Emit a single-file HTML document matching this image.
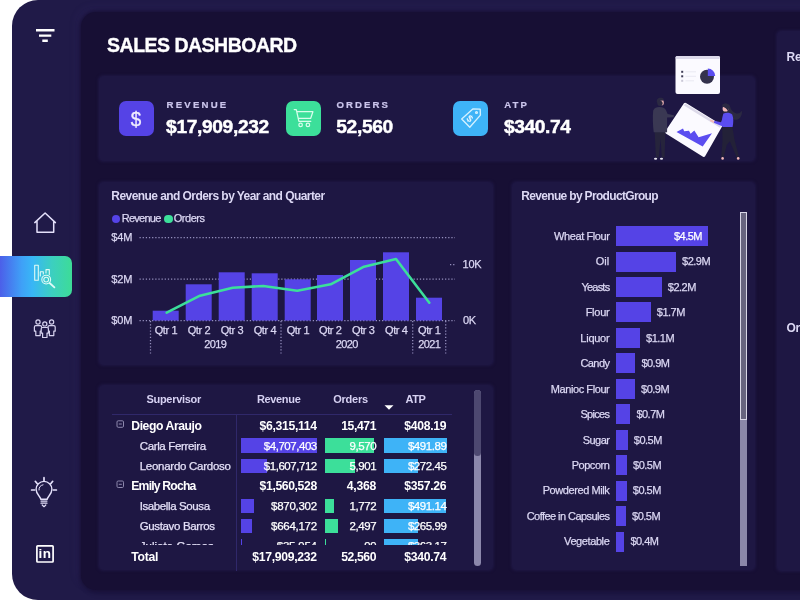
<!DOCTYPE html>
<html lang="en"><head><meta charset="utf-8"><title>Sales Dashboard</title>
<style>
html,body{margin:0;padding:0}
body{width:800px;height:600px;overflow:hidden;position:relative;background:#fff;font-family:"Liberation Sans",sans-serif;}
.t{position:absolute;white-space:nowrap;}
.r{position:absolute;}
svg{position:absolute;overflow:visible}
#side{position:absolute;left:12px;top:0;width:800px;height:600px;background:#201a48;border-radius:26px 0 0 26px;}
#main{position:absolute;left:81px;top:12px;width:740px;height:577.500px;background:#170f34;border-radius:15px 0 0 15px;box-shadow:0 0 4px 1px #170f34,-4px -4px 9px rgba(75,65,140,.13),3px 3px 6px rgba(10,6,34,.18);}
.card{position:absolute;background:#1e1743;border-radius:5px;box-shadow:0 0 2.5px 0.5px #1e1743;}
</style></head><body>
<div id="side"></div>
<div id="main"></div>

<div class="r" style="left:0;top:256px;width:72px;height:40.5px;border-radius:0 7px 7px 0;background:linear-gradient(90deg,#4c5fe9 0%,#3fa0f7 30%,#38b6f6 45%,#3ccfc0 72%,#3ddc97 100%);"></div>
<svg width="800" height="600" viewBox="0 0 800 600" style="left:0;top:0" fill="none" stroke="#e4e0fa" stroke-width="1.5" stroke-linecap="round" stroke-linejoin="round">
<g stroke="#fff" stroke-width="2.4" stroke-linecap="butt"><path d="M36 30.3H54.5M39 35.6H51.3M42.3 40.8H47.8"/></g>
<path d="M34.8 222.6L45.1 213L55.4 222.6M37 221V232.3H53.7V221"/>
<g stroke="#dffaf6" stroke-width="1.1"><rect x="34.7" y="265.3" width="3.6" height="15"/><path d="M40.3 276V271.8H43.3V274"/><path d="M46 273V269.6H49.3V274.5"/><circle cx="46.2" cy="279.6" r="4.4"/><circle cx="46.2" cy="279.6" r="2.4"/><path d="M49.6 283L54.4 287.4" stroke-width="1.8"/></g>
<g stroke-width="1.2" stroke="#d6d2ee">
<circle cx="38" cy="322" r="2.1"/><path d="M35.8 325.6h4.4a1.4 1.4 0 0 1 1.4 1.4v4.2h-1.4v4.4h-4.4v-4.4h-1.4v-4.2a1.4 1.4 0 0 1 1.4-1.4z"/>
<circle cx="51.6" cy="322" r="2.1"/><path d="M49.4 325.6h4.4a1.4 1.4 0 0 1 1.4 1.4v4.2h-1.4v4.4h-4.4v-4.4h-1.4v-4.2a1.4 1.4 0 0 1 1.4-1.4z"/>
<circle cx="44.8" cy="323.9" r="2.1"/><path fill="#201a48" d="M42.6 327.5h4.4a1.4 1.4 0 0 1 1.4 1.4v4.2h-1.4v4.4h-4.4v-4.4h-1.4v-4.2a1.4 1.4 0 0 1 1.4-1.4z"/>
</g>
<g stroke-width="1.4"><path d="M40.7 499.2c0-2.6-4.6-4.6-4.6-9.9a7.9 7.9 0 0 1 15.8 0c0 5.3-4.6 7.3-4.6 9.9z"/><path d="M41 501.100h6M41 503.200h6M42.200 505L44 506.700L45.800 505" stroke-width="1.2"/><path d="M39 490a5 5 0 0 1 4-5.200" stroke-width="1"/>
<path d="M44 477.700V480.400M35.300 481.300L37.300 483.800M52.700 481.300L50.700 483.800M31.600 490H34.600M53.400 490H56.400" stroke-width="1.7"/></g>
<rect x="36.900" y="545.800" width="16.200" height="16.200" rx="0.800" stroke="#fff" stroke-width="1.700"/>
</svg>
<div class="t" style="left:34.9px;width:20px;text-align:center;top:544.1px;height:19px;line-height:19px;font-size:13.5px;color:#fff;font-weight:700;letter-spacing:0.3px;">in</div>
<div class="t" style="left:107.1px;top:32.0px;height:27px;line-height:27px;font-size:19.5px;color:#fff;font-weight:700;letter-spacing:-0.51px;-webkit-text-stroke:.35px #fff;">SALES DASHBOARD</div>
<div class="card" style="left:99px;top:76px;width:656px;height:85px;"></div>
<div class="r" style="left:119.0px;top:100.6px;width:35.2px;height:35.2px;background:#5543e6;border-radius:7px;"></div>
<div class="t" style="left:166.5px;top:97.8px;height:13px;line-height:13px;font-size:9.6px;color:#cbc5ec;font-weight:700;letter-spacing:2.23px;-webkit-text-stroke:.2px #cbc5ec;">REVENUE</div>
<div class="t" style="left:166.1px;top:113.0px;height:27px;line-height:27px;font-size:19.2px;color:#fff;font-weight:700;letter-spacing:-0.36px;-webkit-text-stroke:.45px #fff;">$17,909,232</div>
<div class="r" style="left:286.0px;top:100.6px;width:35.2px;height:35.2px;background:#3cdf9a;border-radius:7px;"></div>
<div class="t" style="left:336.6px;top:97.8px;height:13px;line-height:13px;font-size:9.6px;color:#cbc5ec;font-weight:700;letter-spacing:2.05px;-webkit-text-stroke:.2px #cbc5ec;">ORDERS</div>
<div class="t" style="left:336.2px;top:113.0px;height:27px;line-height:27px;font-size:19.2px;color:#fff;font-weight:700;letter-spacing:-0.32px;-webkit-text-stroke:.45px #fff;">52,560</div>
<div class="r" style="left:453.0px;top:100.6px;width:35.2px;height:35.2px;background:#3eb3f7;border-radius:7px;"></div>
<div class="t" style="left:504.3px;top:97.8px;height:13px;line-height:13px;font-size:9.6px;color:#cbc5ec;font-weight:700;letter-spacing:2.1px;-webkit-text-stroke:.2px #cbc5ec;">ATP</div>
<div class="t" style="left:503.9px;top:113.0px;height:27px;line-height:27px;font-size:19.2px;color:#fff;font-weight:700;letter-spacing:-0.4px;-webkit-text-stroke:.45px #fff;">$340.74</div>
<div class="t" style="left:126.1px;width:20px;text-align:center;top:103.8px;height:29px;line-height:29px;font-size:20.5px;color:#f1eeff;font-weight:400;transform:scaleX(.92);-webkit-text-stroke:.3px #f1eeff;">$</div>
<svg width="800" height="600" viewBox="0 0 800 600" style="left:0;top:0" fill="none" stroke="#d8fdec" stroke-width="1.25" stroke-linecap="round" stroke-linejoin="round">
<path d="M294.200 109.600h2.100l2.600 11.700h11.900M297.300 111.700h15.600l-2.200 6.600h-11.700"/><circle cx="300.600" cy="124.900" r="1.750"/><circle cx="307.900" cy="124.900" r="1.750"/>
<g stroke="#d4f1ff" stroke-width="1.350"><path d="M472.800 108.900L480.200 109.200L480.400 115.100L469.800 127.300L461.700 119Z"/><circle cx="476.500" cy="112.500" r="0.900"/></g>
</svg>
<div class="t" style="left:465.4px;width:10px;text-align:center;top:111.7px;height:13px;line-height:13px;font-size:9.5px;color:#e8f6ff;font-weight:700;transform:rotate(38deg);">$</div>
<svg width="800" height="600" viewBox="0 0 800 600" style="left:0;top:0">
<rect x="675.500" y="56" width="44.500" height="38" rx="2" fill="#fbfaff"/>
<rect x="675.500" y="56" width="44.500" height="3" rx="1.500" fill="#dcd9ea"/>
<circle cx="707" cy="76.800" r="7" fill="#34324c"/>
<path d="M707.800 76V68.600A7.400 7.400 0 0 1 715.200 76Z" fill="#5b4df0"/>
<g fill="#3f3d56"><rect x="681.200" y="70.800" width="2" height="2"/><rect x="681.200" y="75.300" width="2" height="2"/></g><rect x="681.200" y="79.800" width="2" height="2" fill="#c9c7d6"/>
<g stroke="#deddea" stroke-width="0.600"><path d="M685.500 71.800H696M685.500 76.300H696M685.500 80.800H694"/></g>
<!-- tilted card -->
<path d="M685.200 104.200L720.600 126L703.800 155.400L666.600 132.200Z" fill="#fbfaff" stroke="#fbfaff" stroke-width="3" stroke-linejoin="round"/>
<path d="M685.200 103.400L721.200 125.600L720 127.800L684 105.600Z" fill="#dcd9e9"/>
<path d="M676.500 132L683 128.600L684.200 131.200L689 130.800L690.600 133.800L694.300 130.400L698.600 137.200L712 133.300L702.700 146.600Z" fill="#5b4df0"/>
<!-- man -->
<path d="M654.600 131h10.800l-0.800 26.500h-2.800l-1.200-19l-1.800 19h-2.900z" fill="#26243c"/>
<path d="M653.200 110.500c1.200-2.600 3.400-3.300 6.200-3.400c3 0 5.600 0.900 6.600 3.200l1.600 3.700l6.400 1.300l-0.300 1.900l-6.600 0.300v14.800h-13.400c-0.800-7-1.200-15-0.500-21.800z" fill="#3a3853"/>
<path d="M657 102.500c-1-3 1.500-5.200 4.300-4.700c1.800 0.200 2.700 1.200 2.300 2.500l-3 0.600l-0.600 3.800z" fill="#2b2942"/>
<path d="M660.400 100.700l3-0.300c0.600 1.500 0.500 3.400-0.200 4.600c-1.200 0.800-2.600 0.200-3.200-1z" fill="#f0b5b5"/>
<circle cx="660" cy="103.300" r="2.600" fill="#2b2942"/>
<ellipse cx="655.600" cy="158.700" rx="1.600" ry="1" fill="#e6e4f0"/><ellipse cx="661.500" cy="158.700" rx="1.600" ry="1" fill="#e6e4f0"/>
<!-- woman -->
<path d="M722.600 104.600c2.600-2.200 6.800-0.800 7.600 2.300c0.800 3 3 5.500 6.300 6.500c2.600 0.600 3.800-1 5.600-2.700c0 4.200-1.400 7.800-4.600 8.800c-4.200 1.200-7.200-2.300-8.800-5.300l-5.600-1.600z" fill="#2b2942"/>
<path d="M722.600 126.400h9.600c1.400 6 1.600 11 3 16l3.900 14.600l-2.400 0.700l-6.800-16.500l-3.200 3.800l-3 12.500l-2.500-0.400l1.200-14.600c0.300-5.700-0.500-10.600 0.200-16.100z" fill="#232138"/>
<circle cx="725.500" cy="108.700" r="2.900" fill="#f3b8b8"/>
<path d="M722.600 104.600c2.600-1.900 6-1 7.200 1.600l-2 4.800c-0.800-2-2.800-3.800-5.800-4.400z" fill="#2b2942"/>
<path d="M723.400 113.600c2.600-1.400 6.800-1.200 8.800 0.800c1.600 4 1.200 8.600 0.400 12.600h-10.200c-0.300-4.600-0.700-9.400 1-13.400z" fill="#5b4df0"/>
<path d="M723.400 116l-2.400 6.300l-6.800-1.500l-0.500 2l9.300 3.600l3.600-8.600z" fill="#5b4df0"/>
<path d="M714.400 120.900l-3.700-1.300l-0.900 1.500l4 1.800z" fill="#f3b8b8"/>
<ellipse cx="722.600" cy="158.400" rx="1.300" ry="1.300" fill="#f3b8b8"/><ellipse cx="738.200" cy="158.400" rx="1.300" ry="1.300" fill="#f3b8b8"/>
</svg>
<div class="card" style="left:99px;top:182.200px;width:394px;height:182.500px;"></div>
<div class="t" style="left:111.3px;top:187.5px;height:17px;line-height:17px;font-size:12px;color:#dcd8f4;font-weight:700;letter-spacing:-0.56px;">Revenue and Orders by Year and Quarter</div>
<div class="r" style="left:112.0px;top:214.5px;width:8.4px;height:8.4px;background:#5543e6;border-radius:50%;"></div>
<div class="t" style="left:121.8px;top:211.1px;height:15px;line-height:15px;font-size:11px;color:#dcd8f4;font-weight:400;letter-spacing:-0.76px;-webkit-text-stroke:.25px #dcd8f4;">Revenue</div>
<div class="r" style="left:164.3px;top:214.5px;width:8.4px;height:8.4px;background:#3cdf9a;border-radius:50%;"></div>
<div class="t" style="left:173.8px;top:211.1px;height:15px;line-height:15px;font-size:11px;color:#dcd8f4;font-weight:400;letter-spacing:-0.49px;-webkit-text-stroke:.25px #dcd8f4;">Orders</div>
<div class="t" style="left:111.3px;top:230.1px;height:15px;line-height:15px;font-size:11px;color:#dcd8f4;font-weight:400;letter-spacing:-0.13px;-webkit-text-stroke:.25px #dcd8f4;">$4M</div>
<div class="t" style="left:111.3px;top:271.5px;height:15px;line-height:15px;font-size:11px;color:#dcd8f4;font-weight:400;letter-spacing:-0.13px;-webkit-text-stroke:.25px #dcd8f4;">$2M</div>
<div class="t" style="left:111.3px;top:312.8px;height:15px;line-height:15px;font-size:11px;color:#dcd8f4;font-weight:400;letter-spacing:-0.13px;-webkit-text-stroke:.25px #dcd8f4;">$0M</div>
<div class="t" style="left:462.6px;top:257.0px;height:15px;line-height:15px;font-size:11px;color:#dcd8f4;font-weight:400;letter-spacing:-0.29px;-webkit-text-stroke:.25px #dcd8f4;">10K</div>
<div class="t" style="left:463.0px;top:312.8px;height:15px;line-height:15px;font-size:11px;color:#dcd8f4;font-weight:400;letter-spacing:-0.43px;-webkit-text-stroke:.25px #dcd8f4;">0K</div>
<svg width="800" height="600" viewBox="0 0 800 600" style="left:0;top:0" fill="none"><g stroke="#9590be" stroke-width="1.25" stroke-dasharray="1.25 1.9"><path d="M139.500 237.5H455"/><path d="M139.500 279H455"/><path d="M139.500 320.5H455"/><path d="M450 264.500H456"/><path d="M150.5 321V353.500"/><path d="M281 321V353.500"/><path d="M412.7 321V353.500"/><path d="M445.7 321V353.500"/></g><rect x="152.7" y="310.7" width="26" height="9.8" fill="#5543e6"/><rect x="185.7" y="284.3" width="26" height="36.2" fill="#5543e6"/><rect x="218.7" y="272.3" width="26" height="48.2" fill="#5543e6"/><rect x="251.7" y="273.3" width="26" height="47.2" fill="#5543e6"/><rect x="284.7" y="279.3" width="26" height="41.2" fill="#5543e6"/><rect x="317" y="275" width="26" height="45.5" fill="#5543e6"/><rect x="350" y="260" width="26" height="60.5" fill="#5543e6"/><rect x="383" y="252.3" width="26" height="68.2" fill="#5543e6"/><rect x="416" y="297.7" width="26" height="22.8" fill="#5543e6"/><polyline points="166.7,312.7 200,295.7 232.7,287.7 263.3,286 297.3,290.7 330.7,284.3 364,266.7 396,259 429.3,302.7" stroke="#3cdf9a" stroke-width="2.600" stroke-linejoin="round" stroke-linecap="round"/></svg>
<div class="t" style="left:146.0px;width:40px;text-align:center;top:322.8px;height:15px;line-height:15px;font-size:11px;color:#dcd8f4;font-weight:400;letter-spacing:-0.35px;-webkit-text-stroke:.25px #dcd8f4;">Qtr 1</div>
<div class="t" style="left:179.0px;width:40px;text-align:center;top:322.8px;height:15px;line-height:15px;font-size:11px;color:#dcd8f4;font-weight:400;letter-spacing:-0.35px;-webkit-text-stroke:.25px #dcd8f4;">Qtr 2</div>
<div class="t" style="left:212.0px;width:40px;text-align:center;top:322.8px;height:15px;line-height:15px;font-size:11px;color:#dcd8f4;font-weight:400;letter-spacing:-0.35px;-webkit-text-stroke:.25px #dcd8f4;">Qtr 3</div>
<div class="t" style="left:245.0px;width:40px;text-align:center;top:322.8px;height:15px;line-height:15px;font-size:11px;color:#dcd8f4;font-weight:400;letter-spacing:-0.35px;-webkit-text-stroke:.25px #dcd8f4;">Qtr 4</div>
<div class="t" style="left:278.0px;width:40px;text-align:center;top:322.8px;height:15px;line-height:15px;font-size:11px;color:#dcd8f4;font-weight:400;letter-spacing:-0.35px;-webkit-text-stroke:.25px #dcd8f4;">Qtr 1</div>
<div class="t" style="left:310.3px;width:40px;text-align:center;top:322.8px;height:15px;line-height:15px;font-size:11px;color:#dcd8f4;font-weight:400;letter-spacing:-0.35px;-webkit-text-stroke:.25px #dcd8f4;">Qtr 2</div>
<div class="t" style="left:343.3px;width:40px;text-align:center;top:322.8px;height:15px;line-height:15px;font-size:11px;color:#dcd8f4;font-weight:400;letter-spacing:-0.35px;-webkit-text-stroke:.25px #dcd8f4;">Qtr 3</div>
<div class="t" style="left:376.3px;width:40px;text-align:center;top:322.8px;height:15px;line-height:15px;font-size:11px;color:#dcd8f4;font-weight:400;letter-spacing:-0.35px;-webkit-text-stroke:.25px #dcd8f4;">Qtr 4</div>
<div class="t" style="left:409.3px;width:40px;text-align:center;top:322.8px;height:15px;line-height:15px;font-size:11px;color:#dcd8f4;font-weight:400;letter-spacing:-0.35px;-webkit-text-stroke:.25px #dcd8f4;">Qtr 1</div>
<div class="t" style="left:195.3px;width:40px;text-align:center;top:336.9px;height:15px;line-height:15px;font-size:11px;color:#dcd8f4;font-weight:400;letter-spacing:-0.62px;-webkit-text-stroke:.25px #dcd8f4;">2019</div>
<div class="t" style="left:326.7px;width:40px;text-align:center;top:336.9px;height:15px;line-height:15px;font-size:11px;color:#dcd8f4;font-weight:400;letter-spacing:-0.62px;-webkit-text-stroke:.25px #dcd8f4;">2020</div>
<div class="t" style="left:409.3px;width:40px;text-align:center;top:336.9px;height:15px;line-height:15px;font-size:11px;color:#dcd8f4;font-weight:400;letter-spacing:-0.62px;-webkit-text-stroke:.25px #dcd8f4;">2021</div>
<div class="card" style="left:99px;top:384.600px;width:393.500px;height:185.900px;"></div>
<div class="t" style="left:123.7px;width:100px;text-align:center;top:391.5px;height:15px;line-height:15px;font-size:11px;color:#d6d1f2;font-weight:700;letter-spacing:-0.3px;">Supervisor</div>
<div class="t" style="left:228.7px;width:100px;text-align:center;top:391.5px;height:15px;line-height:15px;font-size:11px;color:#d6d1f2;font-weight:700;letter-spacing:-0.34px;">Revenue</div>
<div class="t" style="left:300.5px;width:100px;text-align:center;top:391.5px;height:15px;line-height:15px;font-size:11px;color:#d6d1f2;font-weight:700;letter-spacing:-0.25px;">Orders</div>
<div class="t" style="left:365.5px;width:100px;text-align:center;top:391.5px;height:15px;line-height:15px;font-size:11px;color:#d6d1f2;font-weight:700;letter-spacing:-0.39px;">ATP</div>
<div class="r" style="left:112.0px;top:414.3px;width:340.0px;height:1.0px;background:#30286a;"></div>
<div class="r" style="left:235.8px;top:415.0px;width:1.0px;height:156.0px;background:#30286a;"></div>
<svg width="800" height="600" viewBox="0 0 800 600" style="left:0;top:0"><path d="M384.500 405.300h9l-4.500 4.500z" fill="#fff"/><g fill="none" stroke="#8d88ad" stroke-width="1"><rect x="117" y="420.800" width="6.500" height="6.500" rx="1.200"/><path d="M118.800 424h3"/><rect x="117" y="481" width="6.500" height="6.500" rx="1.200"/><path d="M118.800 484.300h3"/></g></svg>
<div class="r" style="left:98px;top:416px;width:372px;height:128.800px;overflow:hidden;"><div style="position:absolute;left:-98px;top:-416px;width:800px;height:600px;">
<div class="t" style="left:131.3px;top:418.1px;height:17px;line-height:17px;font-size:12.2px;color:#fff;font-weight:700;letter-spacing:-0.43px;">Diego Araujo</div>
<div class="t" style="left:226.8px;width:90px;text-align:right;top:418.1px;height:17px;line-height:17px;font-size:12.2px;color:#fff;font-weight:700;letter-spacing:-0.31px;">$6,315,114</div>
<div class="t" style="left:316.2px;width:60px;text-align:right;top:418.1px;height:17px;line-height:17px;font-size:12.2px;color:#fff;font-weight:700;letter-spacing:-0.37px;">15,471</div>
<div class="t" style="left:376.4px;width:70px;text-align:right;top:418.1px;height:17px;line-height:17px;font-size:12.2px;color:#fff;font-weight:700;letter-spacing:-0.26px;">$408.19</div>
<div class="r" style="left:240.8px;top:438.4px;width:76.0px;height:14.3px;background:#5543e6;"></div>
<div class="r" style="left:324.7px;top:438.4px;width:49.1px;height:14.3px;background:#3cdf9a;"></div>
<div class="r" style="left:384.3px;top:438.4px;width:62.7px;height:14.3px;background:#3eb3f7;"></div>
<div class="t" style="left:139.7px;top:438.1px;height:16px;line-height:16px;font-size:11.5px;color:#e4e0f8;font-weight:400;letter-spacing:-0.35px;-webkit-text-stroke:.25px #e4e0f8;">Carla Ferreira</div>
<div class="t" style="left:226.8px;width:90px;text-align:right;top:438.1px;height:16px;line-height:16px;font-size:11.5px;color:#fff;font-weight:400;letter-spacing:-0.46px;-webkit-text-stroke:.25px #fff;">$4,707,403</div>
<div class="t" style="left:316.2px;width:60px;text-align:right;top:438.1px;height:16px;line-height:16px;font-size:11.5px;color:#fff;font-weight:400;letter-spacing:-0.42px;-webkit-text-stroke:.25px #fff;">9,570</div>
<div class="t" style="left:376.4px;width:70px;text-align:right;top:438.1px;height:16px;line-height:16px;font-size:11.5px;color:#fff;font-weight:400;letter-spacing:-0.44px;-webkit-text-stroke:.25px #fff;">$491.89</div>
<div class="r" style="left:240.8px;top:458.5px;width:25.8px;height:14.3px;background:#5543e6;"></div>
<div class="r" style="left:324.7px;top:458.5px;width:30.3px;height:14.3px;background:#3cdf9a;"></div>
<div class="r" style="left:384.3px;top:458.5px;width:34.1px;height:14.3px;background:#3eb3f7;"></div>
<div class="t" style="left:139.7px;top:458.2px;height:16px;line-height:16px;font-size:11.5px;color:#e4e0f8;font-weight:400;letter-spacing:-0.27px;-webkit-text-stroke:.25px #e4e0f8;">Leonardo Cardoso</div>
<div class="t" style="left:226.8px;width:90px;text-align:right;top:458.2px;height:16px;line-height:16px;font-size:11.5px;color:#fff;font-weight:400;letter-spacing:-0.46px;-webkit-text-stroke:.25px #fff;">$1,607,712</div>
<div class="t" style="left:316.2px;width:60px;text-align:right;top:458.2px;height:16px;line-height:16px;font-size:11.5px;color:#fff;font-weight:400;letter-spacing:-0.42px;-webkit-text-stroke:.25px #fff;">5,901</div>
<div class="t" style="left:376.4px;width:70px;text-align:right;top:458.2px;height:16px;line-height:16px;font-size:11.5px;color:#fff;font-weight:400;letter-spacing:-0.44px;-webkit-text-stroke:.25px #fff;">$272.45</div>
<div class="t" style="left:131.3px;top:478.2px;height:17px;line-height:17px;font-size:12.2px;color:#fff;font-weight:700;letter-spacing:-0.81px;">Emily Rocha</div>
<div class="t" style="left:226.8px;width:90px;text-align:right;top:478.2px;height:17px;line-height:17px;font-size:12.2px;color:#fff;font-weight:700;letter-spacing:-0.38px;">$1,560,528</div>
<div class="t" style="left:316.2px;width:60px;text-align:right;top:478.2px;height:17px;line-height:17px;font-size:12.2px;color:#fff;font-weight:700;letter-spacing:-0.21px;">4,368</div>
<div class="t" style="left:376.4px;width:70px;text-align:right;top:478.2px;height:17px;line-height:17px;font-size:12.2px;color:#fff;font-weight:700;letter-spacing:-0.26px;">$357.26</div>
<div class="r" style="left:240.8px;top:498.5px;width:13.5px;height:14.3px;background:#5543e6;"></div>
<div class="r" style="left:324.7px;top:498.5px;width:9.5px;height:14.3px;background:#3cdf9a;"></div>
<div class="r" style="left:384.3px;top:498.5px;width:62.2px;height:14.3px;background:#3eb3f7;"></div>
<div class="t" style="left:139.7px;top:498.2px;height:16px;line-height:16px;font-size:11.5px;color:#e4e0f8;font-weight:400;letter-spacing:-0.39px;-webkit-text-stroke:.25px #e4e0f8;">Isabella Sousa</div>
<div class="t" style="left:226.8px;width:90px;text-align:right;top:498.2px;height:16px;line-height:16px;font-size:11.5px;color:#fff;font-weight:400;letter-spacing:-0.28px;-webkit-text-stroke:.25px #fff;">$870,302</div>
<div class="t" style="left:316.2px;width:60px;text-align:right;top:498.2px;height:16px;line-height:16px;font-size:11.5px;color:#fff;font-weight:400;letter-spacing:-0.42px;-webkit-text-stroke:.25px #fff;">1,772</div>
<div class="t" style="left:376.4px;width:70px;text-align:right;top:498.2px;height:16px;line-height:16px;font-size:11.5px;color:#fff;font-weight:400;letter-spacing:-0.44px;-webkit-text-stroke:.25px #fff;">$491.14</div>
<div class="r" style="left:240.8px;top:518.5px;width:10.9px;height:14.3px;background:#5543e6;"></div>
<div class="r" style="left:324.7px;top:518.5px;width:13.0px;height:14.3px;background:#3cdf9a;"></div>
<div class="r" style="left:384.3px;top:518.5px;width:33.4px;height:14.3px;background:#3eb3f7;"></div>
<div class="t" style="left:139.7px;top:518.2px;height:16px;line-height:16px;font-size:11.5px;color:#e4e0f8;font-weight:400;letter-spacing:-0.35px;-webkit-text-stroke:.25px #e4e0f8;">Gustavo Barros</div>
<div class="t" style="left:226.8px;width:90px;text-align:right;top:518.2px;height:16px;line-height:16px;font-size:11.5px;color:#fff;font-weight:400;letter-spacing:-0.28px;-webkit-text-stroke:.25px #fff;">$664,172</div>
<div class="t" style="left:316.2px;width:60px;text-align:right;top:518.2px;height:16px;line-height:16px;font-size:11.5px;color:#fff;font-weight:400;letter-spacing:-0.42px;-webkit-text-stroke:.25px #fff;">2,497</div>
<div class="t" style="left:376.4px;width:70px;text-align:right;top:518.2px;height:16px;line-height:16px;font-size:11.5px;color:#fff;font-weight:400;letter-spacing:-0.44px;-webkit-text-stroke:.25px #fff;">$265.99</div>
<div class="r" style="left:240.8px;top:538.6px;width:1.0px;height:14.3px;background:#5543e6;"></div>
<div class="r" style="left:324.7px;top:538.6px;width:0.6px;height:14.3px;background:#3cdf9a;"></div>
<div class="r" style="left:384.3px;top:538.6px;width:33.4px;height:14.3px;background:#3eb3f7;"></div>
<div class="t" style="left:139.7px;top:538.3px;height:16px;line-height:16px;font-size:11.5px;color:#e4e0f8;font-weight:400;letter-spacing:0.04px;-webkit-text-stroke:.25px #e4e0f8;">Julieta Gomes</div>
<div class="t" style="left:226.8px;width:90px;text-align:right;top:538.3px;height:16px;line-height:16px;font-size:11.5px;color:#fff;font-weight:400;letter-spacing:-0.22px;-webkit-text-stroke:.25px #fff;">$35,954</div>
<div class="t" style="left:316.2px;width:60px;text-align:right;top:538.3px;height:16px;line-height:16px;font-size:11.5px;color:#fff;font-weight:400;letter-spacing:-0.4px;-webkit-text-stroke:.25px #fff;">99</div>
<div class="t" style="left:376.4px;width:70px;text-align:right;top:538.3px;height:16px;line-height:16px;font-size:11.5px;color:#fff;font-weight:400;letter-spacing:-0.44px;-webkit-text-stroke:.25px #fff;">$363.17</div>
</div></div>
<div class="t" style="left:131.3px;top:549.1px;height:17px;line-height:17px;font-size:12.2px;color:#fff;font-weight:700;letter-spacing:-0.31px;">Total</div>
<div class="t" style="left:226.8px;width:90px;text-align:right;top:549.1px;height:17px;line-height:17px;font-size:12.2px;color:#fff;font-weight:700;letter-spacing:-0.29px;">$17,909,232</div>
<div class="t" style="left:316.2px;width:60px;text-align:right;top:549.1px;height:17px;line-height:17px;font-size:12.2px;color:#fff;font-weight:700;letter-spacing:-0.37px;">52,560</div>
<div class="t" style="left:376.4px;width:70px;text-align:right;top:549.1px;height:17px;line-height:17px;font-size:12.2px;color:#fff;font-weight:700;letter-spacing:-0.26px;">$340.74</div>
<div class="r" style="left:473.5px;top:390.0px;width:7.0px;height:176.0px;background:#8b87ab;border-radius:3.5px;"></div>
<div class="r" style="left:473.5px;top:390.0px;width:7.0px;height:65.5px;background:#4d4870;border-radius:3.5px;"></div>
<div class="card" style="left:511.700px;top:182.200px;width:243.100px;height:388.300px;"></div>
<div class="t" style="left:521.3px;top:187.5px;height:17px;line-height:17px;font-size:12px;color:#dcd8f4;font-weight:700;letter-spacing:-0.67px;">Revenue by ProductGroup</div>
<div class="r" style="left:616.3px;top:226.0px;width:92.0px;height:20.0px;background:#5543e6;"></div>
<div class="t" style="left:489.4px;width:120px;text-align:right;top:228.7px;height:15px;line-height:15px;font-size:11px;color:#dcd8f4;font-weight:400;letter-spacing:-0.42px;-webkit-text-stroke:.25px #dcd8f4;">Wheat Flour</div>
<div class="t" style="left:652.0px;width:50px;text-align:right;top:228.7px;height:15px;line-height:15px;font-size:11px;color:#fff;font-weight:400;letter-spacing:-0.51px;-webkit-text-stroke:.25px #fff;">$4.5M</div>
<div class="r" style="left:616.3px;top:251.5px;width:59.7px;height:20.0px;background:#5543e6;"></div>
<div class="t" style="left:489.4px;width:120px;text-align:right;top:254.2px;height:15px;line-height:15px;font-size:11px;color:#dcd8f4;font-weight:400;letter-spacing:0.09px;-webkit-text-stroke:.25px #dcd8f4;">Oil</div>
<div class="t" style="left:682.1px;top:254.2px;height:15px;line-height:15px;font-size:11px;color:#dcd8f4;font-weight:400;letter-spacing:-0.51px;-webkit-text-stroke:.25px #dcd8f4;">$2.9M</div>
<div class="r" style="left:616.3px;top:276.9px;width:45.4px;height:20.0px;background:#5543e6;"></div>
<div class="t" style="left:489.4px;width:120px;text-align:right;top:279.6px;height:15px;line-height:15px;font-size:11px;color:#dcd8f4;font-weight:400;letter-spacing:-0.77px;-webkit-text-stroke:.25px #dcd8f4;">Yeasts</div>
<div class="t" style="left:667.8px;top:279.6px;height:15px;line-height:15px;font-size:11px;color:#dcd8f4;font-weight:400;letter-spacing:-0.51px;-webkit-text-stroke:.25px #dcd8f4;">$2.2M</div>
<div class="r" style="left:616.3px;top:302.4px;width:34.4px;height:20.0px;background:#5543e6;"></div>
<div class="t" style="left:489.4px;width:120px;text-align:right;top:305.1px;height:15px;line-height:15px;font-size:11px;color:#dcd8f4;font-weight:400;letter-spacing:-0.27px;-webkit-text-stroke:.25px #dcd8f4;">Flour</div>
<div class="t" style="left:656.8px;top:305.1px;height:15px;line-height:15px;font-size:11px;color:#dcd8f4;font-weight:400;letter-spacing:-0.51px;-webkit-text-stroke:.25px #dcd8f4;">$1.7M</div>
<div class="r" style="left:616.3px;top:327.9px;width:23.7px;height:20.0px;background:#5543e6;"></div>
<div class="t" style="left:489.4px;width:120px;text-align:right;top:330.6px;height:15px;line-height:15px;font-size:11px;color:#dcd8f4;font-weight:400;letter-spacing:-0.26px;-webkit-text-stroke:.25px #dcd8f4;">Liquor</div>
<div class="t" style="left:646.1px;top:330.6px;height:15px;line-height:15px;font-size:11px;color:#dcd8f4;font-weight:400;letter-spacing:-0.51px;-webkit-text-stroke:.25px #dcd8f4;">$1.1M</div>
<div class="r" style="left:616.3px;top:353.4px;width:19.0px;height:20.0px;background:#5543e6;"></div>
<div class="t" style="left:489.4px;width:120px;text-align:right;top:356.1px;height:15px;line-height:15px;font-size:11px;color:#dcd8f4;font-weight:400;letter-spacing:-0.56px;-webkit-text-stroke:.25px #dcd8f4;">Candy</div>
<div class="t" style="left:641.4px;top:356.1px;height:15px;line-height:15px;font-size:11px;color:#dcd8f4;font-weight:400;letter-spacing:-0.51px;-webkit-text-stroke:.25px #dcd8f4;">$0.9M</div>
<div class="r" style="left:616.3px;top:378.8px;width:18.7px;height:20.0px;background:#5543e6;"></div>
<div class="t" style="left:489.4px;width:120px;text-align:right;top:381.5px;height:15px;line-height:15px;font-size:11px;color:#dcd8f4;font-weight:400;letter-spacing:-0.41px;-webkit-text-stroke:.25px #dcd8f4;">Manioc Flour</div>
<div class="t" style="left:641.1px;top:381.5px;height:15px;line-height:15px;font-size:11px;color:#dcd8f4;font-weight:400;letter-spacing:-0.51px;-webkit-text-stroke:.25px #dcd8f4;">$0.9M</div>
<div class="r" style="left:616.3px;top:404.3px;width:14.0px;height:20.0px;background:#5543e6;"></div>
<div class="t" style="left:489.4px;width:120px;text-align:right;top:407.0px;height:15px;line-height:15px;font-size:11px;color:#dcd8f4;font-weight:400;letter-spacing:-0.67px;-webkit-text-stroke:.25px #dcd8f4;">Spices</div>
<div class="t" style="left:636.4px;top:407.0px;height:15px;line-height:15px;font-size:11px;color:#dcd8f4;font-weight:400;letter-spacing:-0.51px;-webkit-text-stroke:.25px #dcd8f4;">$0.7M</div>
<div class="r" style="left:616.3px;top:429.8px;width:11.4px;height:20.0px;background:#5543e6;"></div>
<div class="t" style="left:489.4px;width:120px;text-align:right;top:432.5px;height:15px;line-height:15px;font-size:11px;color:#dcd8f4;font-weight:400;letter-spacing:-0.53px;-webkit-text-stroke:.25px #dcd8f4;">Sugar</div>
<div class="t" style="left:633.8px;top:432.5px;height:15px;line-height:15px;font-size:11px;color:#dcd8f4;font-weight:400;letter-spacing:-0.51px;-webkit-text-stroke:.25px #dcd8f4;">$0.5M</div>
<div class="r" style="left:616.3px;top:455.2px;width:10.7px;height:20.0px;background:#5543e6;"></div>
<div class="t" style="left:489.4px;width:120px;text-align:right;top:457.9px;height:15px;line-height:15px;font-size:11px;color:#dcd8f4;font-weight:400;letter-spacing:-0.47px;-webkit-text-stroke:.25px #dcd8f4;">Popcorn</div>
<div class="t" style="left:633.1px;top:457.9px;height:15px;line-height:15px;font-size:11px;color:#dcd8f4;font-weight:400;letter-spacing:-0.51px;-webkit-text-stroke:.25px #dcd8f4;">$0.5M</div>
<div class="r" style="left:616.3px;top:480.7px;width:10.4px;height:20.0px;background:#5543e6;"></div>
<div class="t" style="left:489.4px;width:120px;text-align:right;top:483.4px;height:15px;line-height:15px;font-size:11px;color:#dcd8f4;font-weight:400;letter-spacing:-0.42px;-webkit-text-stroke:.25px #dcd8f4;">Powdered Milk</div>
<div class="t" style="left:632.8px;top:483.4px;height:15px;line-height:15px;font-size:11px;color:#dcd8f4;font-weight:400;letter-spacing:-0.51px;-webkit-text-stroke:.25px #dcd8f4;">$0.5M</div>
<div class="r" style="left:616.3px;top:506.2px;width:9.7px;height:20.0px;background:#5543e6;"></div>
<div class="t" style="left:489.4px;width:120px;text-align:right;top:508.9px;height:15px;line-height:15px;font-size:11px;color:#dcd8f4;font-weight:400;letter-spacing:-0.56px;-webkit-text-stroke:.25px #dcd8f4;">Coffee in Capsules</div>
<div class="t" style="left:632.1px;top:508.9px;height:15px;line-height:15px;font-size:11px;color:#dcd8f4;font-weight:400;letter-spacing:-0.51px;-webkit-text-stroke:.25px #dcd8f4;">$0.5M</div>
<div class="r" style="left:616.3px;top:531.6px;width:8.0px;height:20.0px;background:#5543e6;"></div>
<div class="t" style="left:489.4px;width:120px;text-align:right;top:534.3px;height:15px;line-height:15px;font-size:11px;color:#dcd8f4;font-weight:400;letter-spacing:-0.4px;-webkit-text-stroke:.25px #dcd8f4;">Vegetable</div>
<div class="t" style="left:630.4px;top:534.3px;height:15px;line-height:15px;font-size:11px;color:#dcd8f4;font-weight:400;letter-spacing:-0.51px;-webkit-text-stroke:.25px #dcd8f4;">$0.4M</div>
<div class="r" style="left:739.5px;top:212.0px;width:7.4px;height:354.3px;background:#8b87a9;"></div>
<div class="r" style="left:739.5px;top:212.0px;width:7.4px;height:208.0px;background:#67647f;box-sizing:border-box;border:1px solid #d8d6e6;border-bottom-width:1.500px;"></div>
<div class="card" style="left:776.700px;top:31px;width:60px;height:539.500px;"></div>
<div class="t" style="left:786.5px;top:48.5px;height:17px;line-height:17px;font-size:12px;color:#dcd8f4;font-weight:700;letter-spacing:-0.25px;">Re</div>
<div class="t" style="left:786.5px;top:319.9px;height:17px;line-height:17px;font-size:12px;color:#dcd8f4;font-weight:700;letter-spacing:-0.25px;">Or</div>
</body></html>
